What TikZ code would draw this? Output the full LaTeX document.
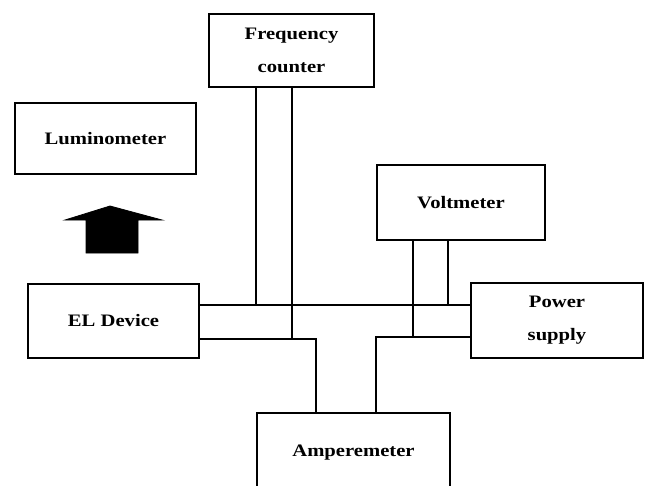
\documentclass[tikz,border=0pt]{standalone}
\usepackage{fontspec}
\setmainfont[FakeStretch=1.18]{Liberation Serif}
\begin{document}
\begin{tikzpicture}[x=1pt,y=-1pt,
  box/.style={draw, line width=1.1pt, inner sep=0pt, align=center,
    font=\fontsize{17.5}{33}\selectfont\bfseries},
  wire/.style={line width=1.1pt},
  lightarrow/.style={fill=black, draw=black, line width=0.8pt, line join=miter}]
\useasboundingbox (0,0) rectangle (647,485);
\clip (0,0) rectangle (647,485);

% instruments
\node[box, minimum width=165, minimum height=73] (fc)  at (291.5,50.5) {Frequency\\counter};
\node[box, minimum width=181, minimum height=71] (lum) at (105.5,138.5) {Luminometer};
\node[box, minimum width=168, minimum height=75] (vm)  at (461,202.5) {Voltmeter};
\node[box, minimum width=171, minimum height=74] (el)  at (113.5,321) {EL Device};
\node[box, minimum width=172, minimum height=75] (ps)  at (557,320.5) {Power\\supply};
\node[box, minimum width=193, minimum height=80] (amp) at (353.5,453) {Amperemeter};

% light emitted by the device towards the luminometer
\fill[lightarrow] (65,220) -- (110,206) -- (162,220) -- (138,220) -- (138,253)
  -- (86,253) -- (86,220) -- cycle;

% junction points of the wiring
\coordinate (jfa) at (256,305);
\coordinate (jfb) at (292,339);
\coordinate (jal) at (316,339);
\coordinate (jar) at (376,337);
\coordinate (jva) at (413,337);
\coordinate (jvb) at (448,305);

% upper bus between device and supply
\draw[wire] (el.east |- jfa) -- (ps.west |- jfa);
% frequency counter legs
\draw[wire] (fc.south -| jfa) -- (jfa);
\draw[wire] (fc.south -| jfb) -- (jfb);
% voltmeter legs
\draw[wire] (vm.south -| jvb) -- (jvb);
\draw[wire] (vm.south -| jva) -- (jva);
% lower left branch to the amperemeter
\draw[wire] (el.east |- jal) -- (jal) -- (amp.north -| jal);
% lower right branch to the amperemeter
\draw[wire] (ps.west |- jar) -- (jar) -- (amp.north -| jar);
\end{tikzpicture}
\end{document}
